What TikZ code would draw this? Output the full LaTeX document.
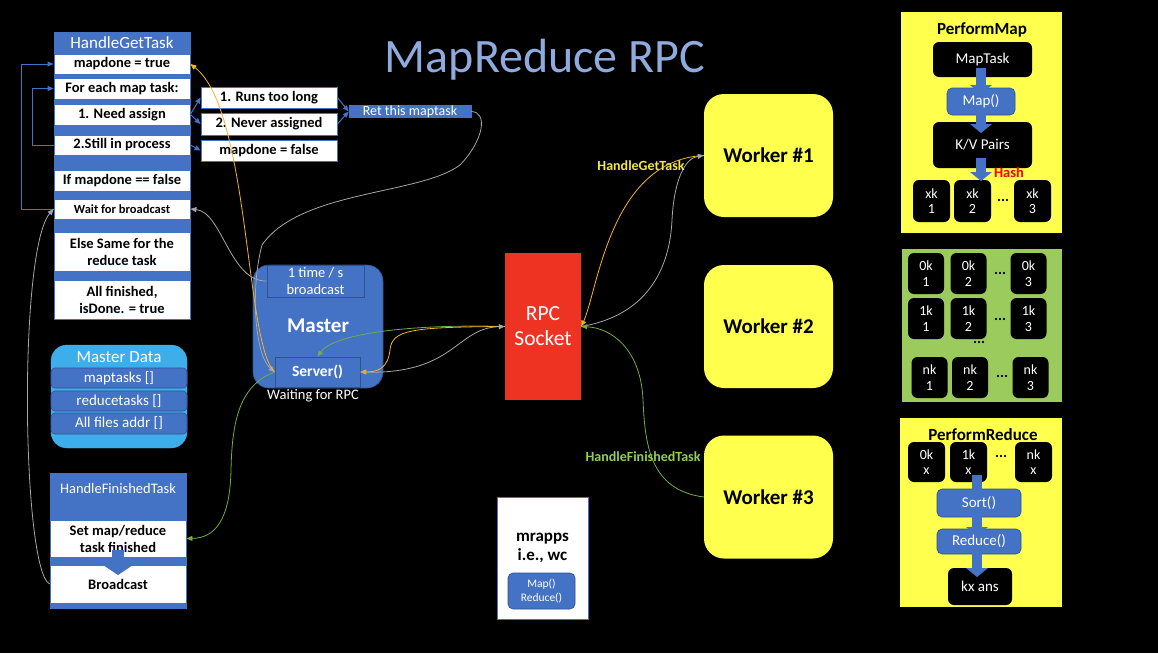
\documentclass[tikz,border=0pt]{standalone}
\usepackage{fontspec}
\setmainfont{Carlito}
\usepackage{tikz}
\usetikzlibrary{arrows.meta,positioning}

\definecolor{hblue}{HTML}{4472C4}
\definecolor{hbluedark}{HTML}{2F528F}
\definecolor{skyblue}{HTML}{3DAEEA}
\definecolor{titleblue}{HTML}{8FAADC}
\definecolor{wyellow}{HTML}{FFFF4D}
\definecolor{sockred}{HTML}{EE3322}
\definecolor{lgreen}{HTML}{9BCB5D}
\definecolor{cgold}{HTML}{F4B428}
\definecolor{cgray}{HTML}{A6A6A6}
\definecolor{cgreen}{HTML}{70AD47}
\definecolor{labgreen}{HTML}{92D050}
\definecolor{labyellow}{HTML}{F2E84A}

\newcommand{\fsz}[2]{\fontsize{#1}{#2}\selectfont}

\tikzset{
  panel/.style={fill=hblue, draw=hblue, minimum width=136pt},
  row/.style={draw=hblue, line width=0.8pt, fill=white, minimum width=136pt, inner sep=1pt, align=center, font=\fsz{14.5}{17}\bfseries},
  sidebox/.style={draw=hblue, line width=0.8pt, fill=white, minimum width=136pt, inner sep=1pt, font=\fsz{14.5}{17}\bfseries},
  hdr/.style={text=white, font=\fsz{17}{19}},
  bluebox/.style={fill=hblue, draw=hbluedark, line width=0.6pt, text=white, align=center, inner sep=1pt},
  worker/.style={fill=wyellow, rounded corners=20pt, minimum width=129pt, minimum height=123pt, font=\fsz{21}{24}\bfseries},
  blk/.style={fill=black, text=white, rounded corners=6pt, align=center, inner sep=1pt, font=\fsz{14}{15.5}},
  bfn/.style={fill=hblue, draw=hbluedark, line width=0.6pt, rounded corners=5pt, text=white, inner sep=1pt, font=\fsz{15}{16}},
  mdrow/.style={fill=hblue, draw=hbluedark, line width=0.6pt, rounded corners=4pt, minimum width=136pt, text=white, inner sep=1pt, font=\fsz{15}{16}},
  dots/.style={font=\fsz{15}{16}\bfseries},
  loopline/.style={draw=hblue, line width=1pt, -{Triangle[length=6pt,width=5pt]}},
  gline/.style={draw=cgray, line width=0.8pt, -{Triangle[length=6pt,width=5pt]}},
  yline/.style={draw=cgold, line width=0.8pt, -{Triangle[length=6pt,width=5pt]}},
  grline/.style={draw=cgreen, line width=0.8pt, -{Triangle[length=6pt,width=5pt]}},
  barrow/.style={draw=hblue, line width=10pt, -{Triangle[width=22pt,length=9pt,line width=0pt]}}
}

\begin{document}
\begin{tikzpicture}[x=1pt, y=-1pt]
  \useasboundingbox (0,0) rectangle (1158,653);
  \fill[black] (0,0) rectangle (1158,653);

  % title
  \node[text=titleblue, font=\fsz{48}{50}] (title) at (545,60) {MapReduce RPC};

  % HandleGetTask
  \node[panel, minimum height=287pt] (hgt) at (122,175.5) {};
  \node[hdr] (hgttitle) at (122,43) {HandleGetTask};
  \node[row, minimum height=20pt] (mapdone) at (122,64) {mapdone = true};
  \node[row, minimum height=21pt] (foreach) at (122,88.5) {For each map task:};
  \node[row, minimum height=21pt] (needassign) at (122,114.5) {1. Need assign};
  \node[row, minimum height=20pt] (inproc) at (122,145) {2.Still in process};
  \node[row, minimum height=21pt] (ifmapdone) at (122,180.5) {If mapdone == false};
  \node[row, minimum height=20pt, font=\fsz{12.5}{14}\bfseries] (wait) at (122,209) {Wait for broadcast};
  \node[row, minimum height=39pt] (elsered) at (122,251.5) {Else Same for the\\reduce task};
  \node[row, minimum height=39pt] (allfin) at (122,299.5) {All finished,\\isDone. = true};

  \node[sidebox, minimum height=21pt] (runs) at (269,97.5) {1. Runs too long};
  \node[sidebox, minimum height=22pt] (never) at (269,124) {2. Never assigned};
  \node[sidebox, minimum height=21pt] (mdfalse) at (269,150.5) {mapdone = false};
  \node[bluebox, draw=hblue, minimum width=122pt, minimum height=11pt, inner sep=0pt, font=\fsz{14}{14}] (ret) at (410,111.5) {Ret this maptask};

  \draw[loopline] (wait.west) -- ++(-32,0) |- (mapdone.west);
  \draw[loopline] (inproc.west) -- ++(-21,0) |- (foreach.west);
  \draw[loopline] (needassign.east) -- (runs.west);
  \draw[loopline] (needassign.east) -- (never.west);
  \draw[loopline] (inproc.east) -- (mdfalse.west);
  \draw[loopline] (runs.east) -- (ret.west);
  \draw[loopline] (never.east) -- (ret.west);

  % Master
  \node[fill=hblue, draw=hbluedark, line width=0.6pt, rounded corners=16pt, minimum width=130pt, minimum height=123pt] (master) at (318,326.5) {};
  \node[bluebox, minimum width=97pt, minimum height=32pt, font=\fsz{14.5}{16.7}] (bcast) at (315.5,281) {1 time / s\\broadcast};
  \node[text=white, font=\fsz{21}{24}\bfseries] (mastertxt) at (318,326) {Master};
  \node[bluebox, minimum width=85pt, minimum height=30pt, font=\fsz{15.5}{17}\bfseries] (server) at (317.5,372) {Server()};
  \node[text=white, font=\fsz{14.5}{16}] (waitrpc) at (313,396) {Waiting for RPC};

  % Master Data
  \node[fill=skyblue, draw=skyblue, rounded corners=16pt, minimum width=136pt, minimum height=103pt] (mdata) at (119,396.5) {};
  \node[hdr] (mdtitle) at (119,357) {Master Data};
  \node[mdrow, minimum height=20pt] (maptasks) at (119,378) {maptasks []};
  \node[mdrow, minimum height=20pt] (redtasks) at (119,401) {reducetasks []};
  \node[mdrow, minimum height=21pt] (files) at (119,423.5) {All files addr []};

  % HandleFinishedTask
  \node[panel, minimum height=135pt] (hft) at (118,540.5) {};
  \node[hdr, font=\fsz{14.5}{16}] (hfttitle) at (118,489) {HandleFinishedTask};
  \node[row, minimum height=37pt] (setfin) at (118,538.5) {Set map/reduce\\task finished};
  \node[row, minimum height=38pt] (bcfin) at (118,584) {Broadcast};
  \draw[barrow, line width=12pt, -{Triangle[width=30pt,length=10pt,line width=0pt]}] (118,550) -- (118,575);

  % RPC socket
  \node[fill=sockred, minimum width=76pt, minimum height=147pt, text=white, align=center, font=\fsz{21.5}{25}] (rpc) at (543,326.5) {RPC\\Socket};

  % mrapps
  \node[fill=white, draw=hblue, minimum width=91pt, minimum height=122pt] (mrapps) at (542.5,558) {};
  \node[align=center, font=\fsz{17}{19}\bfseries] (mrtxt) at (542.5,548) {mrapps\\i.e., wc};
  \node[bfn, minimum width=67pt, minimum height=36pt, align=center, font=\fsz{11.5}{14}] (mrfn) at (541.5,591) {Map()\\Reduce()};

  % workers
  \node[worker] (w1) at (768.5,155.5) {Worker \#1};
  \node[worker] (w2) at (768.5,326.5) {Worker \#2};
  \node[worker] (w3) at (768.5,497) {Worker \#3};

  % PerformMap
  \node[fill=wyellow, minimum width=161pt, minimum height=221pt] (pmap) at (981.5,122.5) {};
  \node[font=\fsz{17}{19}\bfseries] (pmaptitle) at (982,30) {PerformMap};
  \node[blk, minimum width=99pt, minimum height=35pt, font=\fsz{15}{16}] (maptask) at (982.5,59.5) {MapTask};
  \node[bfn, minimum width=68pt, minimum height=27pt] (mapfn) at (981,101.5) {Map()};
  \node[blk, minimum width=99pt, minimum height=46pt, font=\fsz{15}{16}] (kv) at (982.5,145) {K/V Pairs};
  \node[blk, minimum width=37pt, minimum height=42pt] (xk1) at (931.5,201) {xk\\1};
  \node[blk, minimum width=37pt, minimum height=42pt] (xk2) at (972.5,201) {xk\\2};
  \node[blk, minimum width=37pt, minimum height=42pt] (xk3) at (1032.5,201) {xk\\3};
  \node[dots] (xkdots) at (1003,200) {...};
  \node[text=red, font=\fsz{14.5}{16}\bfseries] (hash) at (1009,172) {Hash};
  \draw[barrow] (981,68) -- (981,94);
  \draw[barrow] (981,108) -- (981,133);
  \draw[barrow] (981,158) -- (981,181);

  % shuffled buckets
  \node[fill=lgreen, minimum width=160pt, minimum height=153pt] (buckets) at (982,325.5) {};
  \node[blk, minimum width=36pt, minimum height=41pt] (b01) at (926,273.5) {0k\\1};
  \node[blk, minimum width=36pt, minimum height=41pt] (b02) at (968.5,273.5) {0k\\2};
  \node[blk, minimum width=36pt, minimum height=41pt] (b03) at (1028.5,273.5) {0k\\3};
  \node[blk, minimum width=36pt, minimum height=41pt] (b11) at (926,318.5) {1k\\1};
  \node[blk, minimum width=36pt, minimum height=41pt] (b12) at (968.5,318.5) {1k\\2};
  \node[blk, minimum width=36pt, minimum height=41pt] (b13) at (1028.5,318.5) {1k\\3};
  \node[blk, minimum width=36pt, minimum height=41pt] (bn1) at (929.5,377.5) {nk\\1};
  \node[blk, minimum width=36pt, minimum height=41pt] (bn2) at (970,377.5) {nk\\2};
  \node[blk, minimum width=36pt, minimum height=41pt] (bn3) at (1030.5,377.5) {nk\\3};
  \node[dots] (bdots0) at (1000,273) {...};
  \node[dots] (bdots1) at (1000,319) {...};
  \node[dots] (bdotsm) at (979,342) {...};
  \node[dots] (bdotsn) at (1002,376) {...};

  % PerformReduce
  \node[fill=wyellow, minimum width=162pt, minimum height=189pt] (pred) at (981,512.5) {};
  \node[font=\fsz{17}{19}\bfseries] (predtitle) at (983,435) {PerformReduce};
  \node[blk, minimum width=37pt, minimum height=40pt] (r0) at (926.5,462) {0k\\x};
  \node[blk, minimum width=37pt, minimum height=40pt] (r1) at (968.5,462) {1k\\x};
  \node[blk, minimum width=37pt, minimum height=40pt] (rn) at (1033.5,462) {nk\\x};
  \node[dots] (rdots) at (1001,456) {...};
  \node[bfn, minimum width=84pt, minimum height=28pt] (sortfn) at (979,503) {Sort()};
  \node[bfn, minimum width=84pt, minimum height=25pt] (redfn) at (979,541.5) {Reduce()};
  \node[blk, minimum width=64pt, minimum height=37pt, font=\fsz{15}{16}] (kxans) at (980,586.5) {kx ans};
  \draw[barrow] (977,475) -- (977,500);
  \draw[barrow] (977,513) -- (977,536);
  \draw[barrow] (977,550) -- (977,577);

  % connectors round the master
  \draw[gline] (ret.east) .. controls (488,112) and (484,140) .. (460,165) .. controls (420,195) and (300,190) .. (262,245) .. controls (250,290) and (255,355) .. (server.west);
  \draw[yline] (server.west) .. controls (245,345) and (250,110) .. (mapdone.east);
  \draw[gline] (bcast.west) .. controls (230,282) and (222,212) .. (wait.east);
  \draw[gline] (bcfin.west) .. controls (22,570) and (18,250) .. (wait.west);
  \draw[grline] (server.west) .. controls (240,385) and (232,420) .. (231,470) .. controls (230,520) and (215,538) .. (setfin.east);
  \draw[grline] (rpc.west) .. controls (420,324) and (335,332) .. (server.north);
  \draw[yline] (rpc.west) .. controls (410,327) and (392,330) .. (390,350) .. controls (388,368) and (378,372) .. (server.east);
  \draw[gline] (server.east) .. controls (455,376) and (455,328) .. (rpc.west);

  % connectors to the workers
  \draw[yline] (w1.west) .. controls (610,160) and (598,290) .. (rpc.east);
  \draw[gline] (rpc.east) .. controls (650,315) and (670,265) .. (672,220) .. controls (674,180) and (685,158) .. (w1.west);
  \draw[grline] (w3.west) .. controls (650,490) and (645,445) .. (643,400) .. controls (641,350) and (612,328) .. (rpc.east);
  \node[text=labyellow, font=\fsz{14}{16}\bfseries] (lblget) at (641,166) {HandleGetTask};
  \node[text=labgreen, font=\fsz{14}{16}\bfseries] (lblfin) at (643,457) {HandleFinishedTask};
\end{tikzpicture}
\end{document}
